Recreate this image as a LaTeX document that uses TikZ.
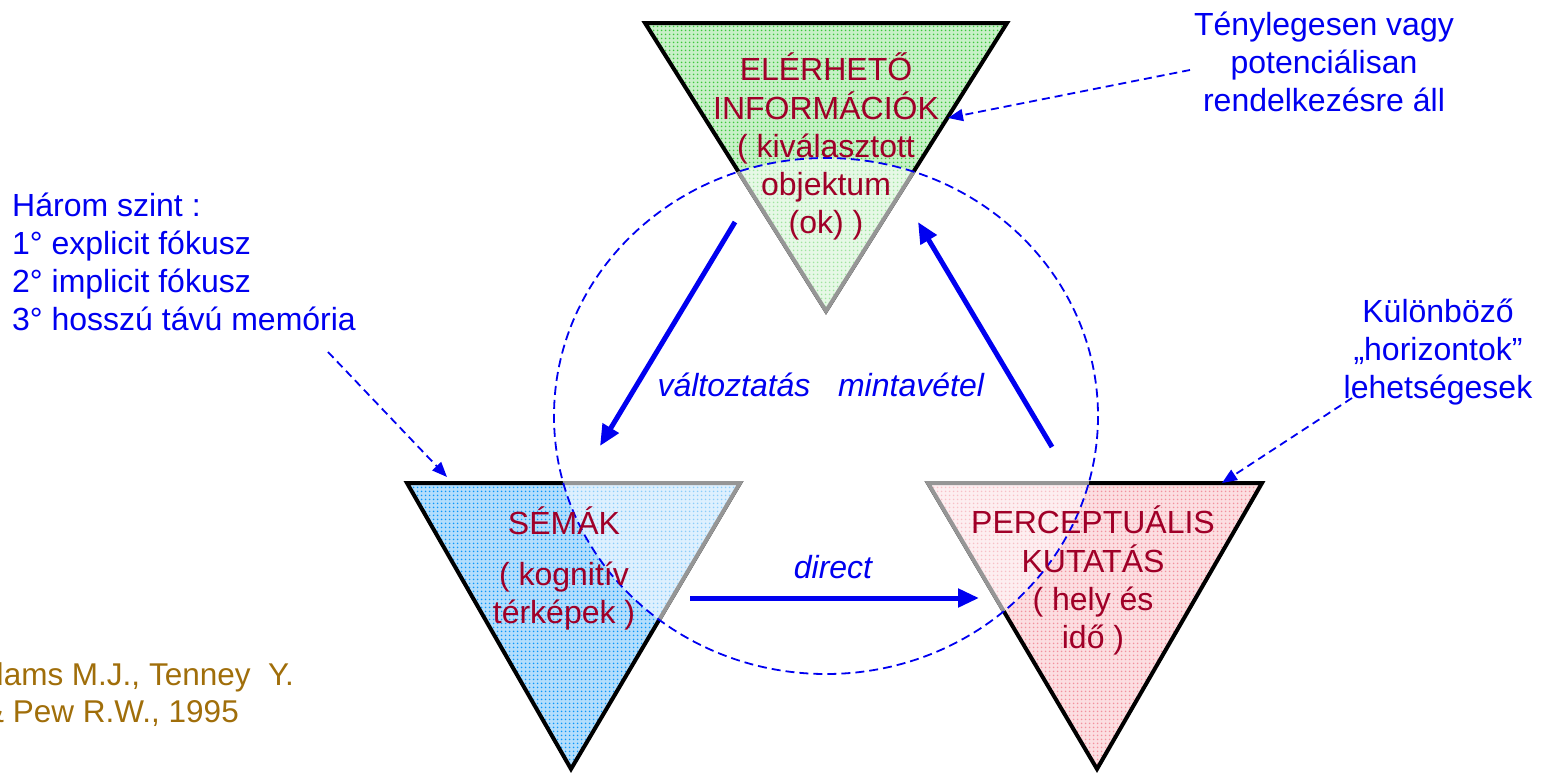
\documentclass[tikz,border=0pt]{standalone}
\usepackage{fontspec}
\setmainfont{Liberation Sans}
\usetikzlibrary{arrows.meta,patterns.meta}
\definecolor{txtred}{RGB}{160,0,40}
\definecolor{citecol}{RGB}{160,110,10}
\definecolor{myblue}{RGB}{0,0,240}
\definecolor{greenbgout}{RGB}{200,240,200}
\definecolor{greendotout}{RGB}{60,200,60}
\definecolor{greenbgin}{RGB}{230,248,230}
\definecolor{greendotin}{RGB}{160,228,160}
\definecolor{bluebgout}{RGB}{180,222,252}
\definecolor{bluedotout}{RGB}{10,150,250}
\definecolor{bluebgin}{RGB}{222,240,254}
\definecolor{bluedotin}{RGB}{140,205,250}
\definecolor{pinkbgout}{RGB}{252,222,225}
\definecolor{pinkdotout}{RGB}{242,145,158}
\definecolor{pinkbgin}{RGB}{253,238,240}
\definecolor{pinkdotin}{RGB}{247,192,199}
\definecolor{edgegray}{RGB}{150,150,150}
\tikzdeclarepattern{
  name=fdots,
  type=uncolored,
  bounding box={(0pt,0pt) and (4pt,4pt)},
  tile size={(4pt,4pt)},
  code={\pgfpathcircle{\pgfpoint{2pt}{2pt}}{1.1pt}\pgfusepath{fill}}
}
\newcommand{\tlc}[1]{\begin{tabular}[t]{@{}c@{}}#1\end{tabular}}
\newcommand{\tll}[1]{\begin{tabular}[t]{@{}l@{}}#1\end{tabular}}
\tikzset{
  bigtxt/.style={font=\fontsize{32}{38}\selectfont, inner sep=0pt},
  redtxt/.style={bigtxt, text=txtred},
  bluetxt/.style={bigtxt, text=myblue},
  labtxt/.style={bigtxt, text=myblue, font=\fontsize{32}{38}\selectfont\itshape},
  citetxt/.style={bigtxt, text=citecol, font=\fontsize{31.5}{38}\selectfont},
  outedge/.style={draw=black, line width=4pt, line join=miter},
  inedge/.style={draw=edgegray, line width=4pt, line join=miter},
  thickarrow/.style={draw=myblue, line width=5pt, -{Triangle[length=21pt,width=18pt]}},
  dasharrow/.style={draw=myblue, line width=1.8pt, dash pattern=on 8pt off 5pt, -{Triangle[length=15pt,width=12pt]}},
  circdash/.style={draw=myblue, line width=1.8pt, dash pattern=on 9pt off 5pt},
  dotfill/.style={pattern={fdots}, pattern color=#1},
}
\begin{document}
\begin{tikzpicture}[x=1pt,y=-1pt]
\useasboundingbox (0,0) rectangle (1545,772);
\clip (0,0) rectangle (1545,772);
% vertices
\coordinate (A1) at (645,23);  \coordinate (A2) at (1007,23); \coordinate (A3) at (826,311);
\coordinate (B1) at (407,483); \coordinate (B2) at (740,483); \coordinate (B3) at (571,769);
\coordinate (C1) at (928,483); \coordinate (C2) at (1262,483); \coordinate (C3) at (1097,769);
\coordinate (E) at (826,416);
% fills
\fill[greenbgout] (A1) -- (A2) -- (A3) -- cycle;
\fill[dotfill=greendotout] (A1) -- (A2) -- (A3) -- cycle;
\fill[bluebgout] (B1) -- (B2) -- (B3) -- cycle;
\fill[dotfill=bluedotout] (B1) -- (B2) -- (B3) -- cycle;
\fill[pinkbgout] (C1) -- (C2) -- (C3) -- cycle;
\fill[dotfill=pinkdotout] (C1) -- (C2) -- (C3) -- cycle;
\draw[outedge] (A1) -- (A2) -- (A3) -- cycle;
\draw[outedge] (B1) -- (B2) -- (B3) -- cycle;
\draw[outedge] (C1) -- (C2) -- (C3) -- cycle;
\begin{scope}
  \clip (E) ellipse [x radius=272, y radius=258];
  \fill[greenbgin] (A1) -- (A2) -- (A3) -- cycle;
  \fill[dotfill=greendotin] (A1) -- (A2) -- (A3) -- cycle;
  \fill[bluebgin] (B1) -- (B2) -- (B3) -- cycle;
  \fill[dotfill=bluedotin] (B1) -- (B2) -- (B3) -- cycle;
  \fill[pinkbgin] (C1) -- (C2) -- (C3) -- cycle;
  \fill[dotfill=pinkdotin] (C1) -- (C2) -- (C3) -- cycle;
  \draw[inedge] (A1) -- (A2) -- (A3) -- cycle;
  \draw[inedge] (B1) -- (B2) -- (B3) -- cycle;
  \draw[inedge] (C1) -- (C2) -- (C3) -- cycle;
\end{scope}
% dashed circle
\draw[circdash] (E) ellipse [x radius=272, y radius=258];
% triangle texts
\node[redtxt, anchor=base] (tA) at (826,80) {\tlc{ELÉRHETŐ\\INFORMÁCIÓK\\( kiválasztott\\objektum\\(ok) )}};
\node[redtxt, anchor=base] (tB) at (564,534) {\tlc{SÉMÁK\\[13pt]( kognitív\\térképek )}};
\node[redtxt, anchor=base] (tC) at (1093,533) {\tlc{PERCEPTUÁLIS\\KUTATÁS\\( hely és\\idő )}};
% side texts
\node[bluetxt, anchor=base west] (lev) at (12,216) {\tll{Három szint :\\1° explicit fókusz\\2° implicit fókusz\\3° hosszú távú memória}};
\node[bluetxt, anchor=base] (pot) at (1324,35) {\tlc{Ténylegesen vagy\\potenciálisan\\rendelkezésre áll}};
\node[bluetxt, anchor=base] (hor) at (1438,322) {\tlc{Különböző\\„horizontok”\\lehetségesek}};
\node[citetxt, anchor=base east] (cit1) at (294,685) {Adams M.J., Tenney~~Y.};
\node[citetxt, anchor=base east] (cit2) at (239,722) {\& Pew R.W., 1995};
% arrow labels
\node[labtxt, anchor=base] (lv) at (734,396) {változtatás};
\node[labtxt, anchor=base] (lm) at (911,396) {mintavétel};
\node[labtxt, anchor=base] (ld) at (833,578) {direct};
% thick arrows
\coordinate (v1) at (735,222); \coordinate (v2) at (600,446);
\coordinate (m1) at (1052,447); \coordinate (m2) at (918,222);
\coordinate (d1) at (690,598); \coordinate (d2) at (979,598);
\draw[thickarrow] (v1) -- (v2);
\draw[thickarrow] (m1) -- (m2);
\draw[thickarrow] (d1) -- (d2);
% dashed pointers
\coordinate (p1) at (1190,70);  \coordinate (p2) at (948,118);
\coordinate (q1) at (328,352);  \coordinate (q2) at (447,477);
\coordinate (r1) at (1352,398); \coordinate (r2) at (1222,483);
\draw[dasharrow] (p1) -- (p2);
\draw[dasharrow] (q1) -- (q2);
\draw[dasharrow] (r1) -- (r2);
\end{tikzpicture}
\end{document}
